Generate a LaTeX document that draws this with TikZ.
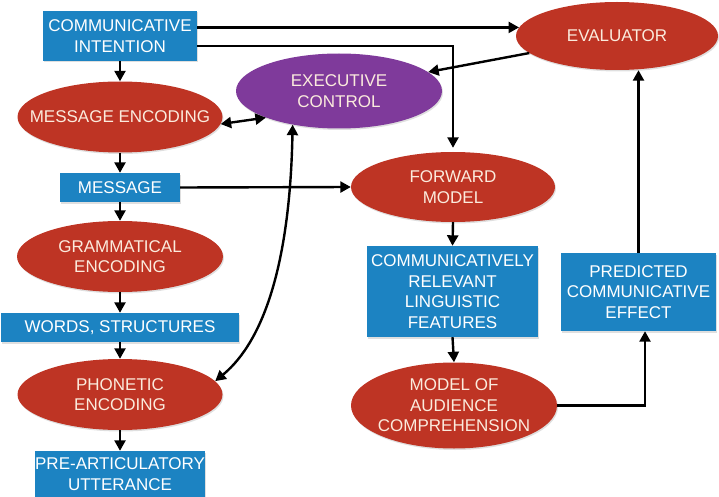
\documentclass[tikz,border=0pt]{standalone}
\usepackage{fontspec}
\setmainfont{Liberation Sans}
\usetikzlibrary{shapes.geometric,arrows.meta,shadows}
\definecolor{boxblue}{HTML}{1C83C2}
\definecolor{ellred}{HTML}{BE3424}
\definecolor{ellpurple}{HTML}{7F3A9B}
\definecolor{cream}{HTML}{FBEBDD}
\tikzset{
  every node/.style={font=\fontsize{17}{20.5}\selectfont, align=center},
  bluebox/.style={rectangle, fill=boxblue, text=white, inner sep=0pt,
    drop shadow={opacity=0.25, shadow xshift=1pt, shadow yshift=-1.5pt}},
  redell/.style={ellipse, fill=ellred, text=cream, inner xsep=-40pt, inner ysep=-15pt,
    drop shadow={opacity=0.25, shadow xshift=1pt, shadow yshift=-1.5pt}},
  purpell/.style={ellipse, fill=ellpurple, text=cream, inner xsep=-40pt, inner ysep=-15pt,
    drop shadow={opacity=0.25, shadow xshift=1pt, shadow yshift=-1.5pt}},
  arr/.style={line width=2.4pt, -{Triangle[length=10.5pt,width=11pt]}},
  darr/.style={line width=2.4pt, {Triangle[length=10.5pt,width=11pt]}-{Triangle[length=10.5pt,width=11pt]}}
}
\begin{document}
\begin{tikzpicture}[x=1pt,y=-1pt]
\useasboundingbox (0,0) rectangle (719,497);
% left column
\node[bluebox, minimum width=154pt, minimum height=50pt] (ci) at (120,36) {COMMUNICATIVE\\INTENTION};
\node[redell, minimum width=205pt, minimum height=71pt] (me) at (120,117) {MESSAGE ENCODING};
\node[bluebox, minimum width=120pt, minimum height=29pt] (mb) at (120,187.5) {MESSAGE};
\node[redell, minimum width=206pt, minimum height=71pt] (ge) at (120,256.5) {GRAMMATICAL\\ENCODING};
\node[bluebox, minimum width=238pt, minimum height=29pt] (ws) at (120,327.5) {WORDS, STRUCTURES};
\node[redell, minimum width=205pt, minimum height=71pt] (pe) at (120,394.5) {PHONETIC\\ENCODING};
\node[bluebox, minimum width=170pt, minimum height=46pt] (pa) at (120,474) {PRE-ARTICULATORY\\UTTERANCE};
% middle
\node[purpell, minimum width=206pt, minimum height=75pt] (ex) at (339,91) {EXECUTIVE\\CONTROL};
\node[redell, minimum width=204pt, minimum height=70pt] (fm) at (453,187) {FORWARD\\MODEL};
\node[bluebox, minimum width=171pt, minimum height=91pt] (cr) at (452.5,291.5) {COMMUNICATIVELY\\RELEVANT\\LINGUISTIC\\FEATURES};
\node[redell, minimum width=206pt, minimum height=86pt] (ma) at (454,405.5) {MODEL OF\\AUDIENCE\\COMPREHENSION};
% right
\node[redell, minimum width=202pt, minimum height=68pt] (ev) at (617,36) {EVALUATOR};
\node[bluebox, minimum width=155pt, minimum height=78pt] (pc) at (638.5,292) {PREDICTED\\COMMUNICATIVE\\EFFECT};
% connectors
\draw[arr] (ci.south) -- (me.north);
\draw[arr] (me.south) -- (mb.north);
\draw[arr] (mb.south) -- (ge.north);
\draw[arr] (ge.south) -- (ws.north);
\draw[arr] (ws.south) -- (pe.north);
\draw[arr] (pe.south) -- (pa.north);
\draw[arr] (ci.east |- ev.175) -- (ev.175);
\draw[arr, shorten >=4pt] ([yshift=-10pt]ci.east) -| (fm.north);
\draw[arr] (ev.191) -- (ex.12);
\draw[darr] (me.-4) -- (ex.200);
\draw[darr] (ex.216) .. controls (290,260) and (265,340) .. (pe.8);
\draw[arr] (mb.east) -- (fm.west);
\draw[arr] (fm.south) -- (cr.north);
\draw[arr] (cr.south) -- (ma.north);
\draw[arr] (ma.east) -| ([xshift=6.5pt]pc.south);
\draw[arr] (pc.north) -- (pc.north |- ev.south);
\end{tikzpicture}
\end{document}
